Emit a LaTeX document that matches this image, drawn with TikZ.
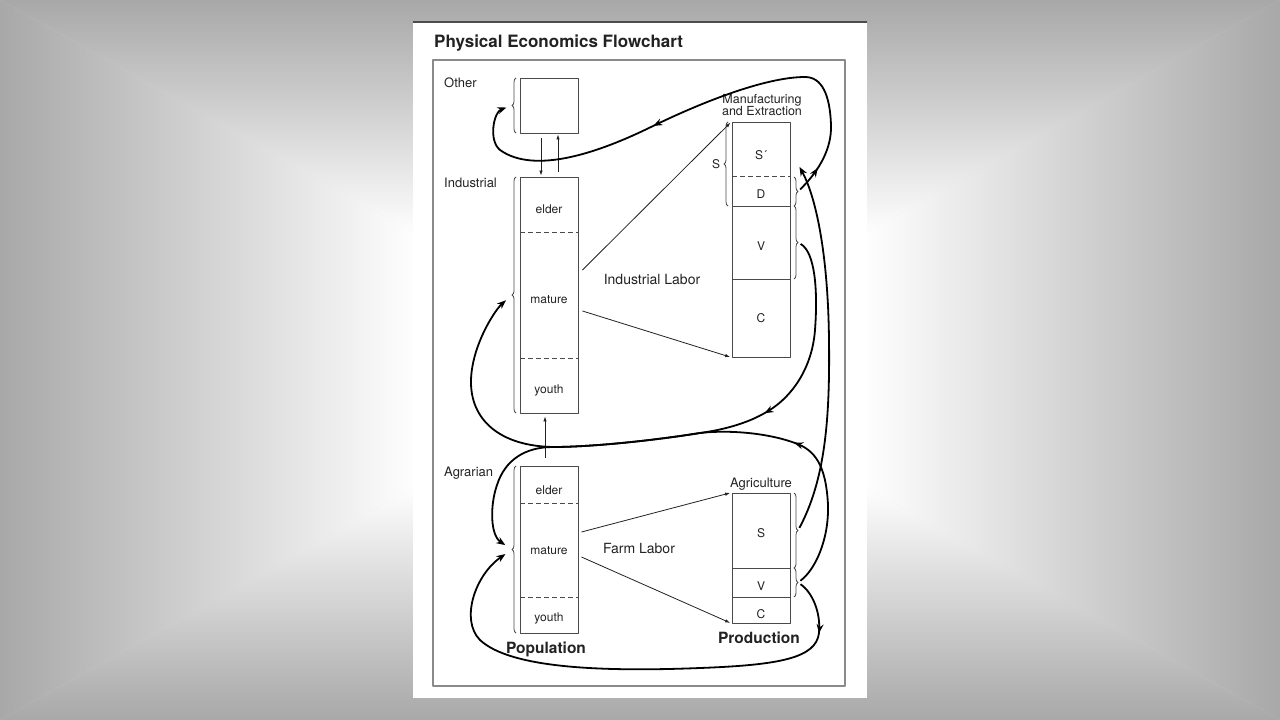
\documentclass[tikz,border=0pt]{standalone}
\usepackage{fontspec}
\setmainfont{TeX Gyre Heros}
\usetikzlibrary{arrows.meta, decorations.pathreplacing, decorations.markings}
\definecolor{bggray}{HTML}{A8A8A8}
\definecolor{ink}{HTML}{222222}
\definecolor{boxline}{HTML}{4A4A4A}
\definecolor{framegray}{HTML}{8A8A8A}
\tikzset{mark arrow/.style={postaction={decorate, decoration={markings, mark=at position #1 with {\arrow{Stealth[length=9pt, width=7pt]}}}}}}

\begin{document}
\begin{tikzpicture}[x=1pt, y=-1pt, line join=round]
	\tikzstyle{box}   = [draw=boxline, line width=0.9pt, inner sep=0pt, minimum width=58pt]
	\tikzstyle{cell}  = [anchor=base, inner sep=0pt, text=ink, font=\fontsize{12}{14}\selectfont]
	\tikzstyle{tag}   = [anchor=base west, inner sep=0pt, text=ink, font=\fontsize{13}{15}\selectfont]
	\tikzstyle{sep}   = [draw=boxline, line width=0.9pt]
	\tikzstyle{brace} = [draw=boxline, line width=0.8pt, decorate, decoration={brace, amplitude=4pt}]
	\tikzstyle{thin}  = [draw=ink, line width=0.8pt, -{Latex[length=5pt, width=3.5pt]}]
	\tikzstyle{flow}  = [draw=black, line width=1.8pt, -{Stealth[length=9pt, width=7pt]}]

	\useasboundingbox (0,0) rectangle (1280,720);

	% background
	\fill[bggray!40] (0,0) rectangle (1280,720);
	\shade[left color=bggray, right color=white] (0,0) -- (420,236) -- (420,484) -- (0,720) -- cycle;
	\shade[left color=white, right color=bggray] (1280,0) -- (860,236) -- (860,484) -- (1280,720) -- cycle;
	\shade[top color=bggray, bottom color=white] (0,0) -- (1280,0) -- (860,236) -- (420,236) -- cycle;
	\shade[top color=white, bottom color=bggray] (0,720) -- (1280,720) -- (860,484) -- (420,484) -- cycle;
	\fill[white] (420,236) rectangle (860,484);

	% page
	\fill[white] (413,22) rectangle (867,698);
	\draw[gray!60!black, line width=1.5pt] (413,22) -- (867,22);
	\draw[framegray, line width=1.2pt] (433,60) rectangle (845,686);

	\node[anchor=base west, inner sep=0pt, text=ink, font=\fontsize{17}{20}\selectfont\bfseries] (title) at (434,47) {Physical Economics Flowchart};

	\node[tag] (otherlbl) at (444,87) {Other};
	\node[tag] (indlbl) at (444,187) {Industrial};
	\node[tag] (agrlbl) at (444,476) {Agrarian};

	% boxes
	\node[box, minimum height=55pt] (other) at (549,105.5) {};
	\node[box, minimum height=236pt] (ind) at (549,295) {};
	\node[box, minimum height=167pt] (agr) at (549,549.5) {};
	\node[box, minimum height=235pt] (manu) at (761,239.5) {};
	\node[box, minimum height=130pt] (agri) at (761,558) {};

	\foreach \y in {232, 358, 503, 597}
		\draw[sep, dash pattern=on 5pt off 3pt] (520,\y) -- (578,\y);
	\draw[sep, dash pattern=on 5pt off 3pt] (732,176) -- (790,176);
	\foreach \y in {206, 279, 568, 597}
		\draw[sep] (732,\y) -- (790,\y);

	\foreach \name/\txt/\y in {ielder/elder/213, imature/mature/303, iyouth/youth/393, aelder/elder/494, amature/mature/554, ayouth/youth/621}
		\node[cell] (\name) at (549,\y) {\txt};
	\foreach \name/\txt/\y in {msp/S´/159, md/D/198, mv/V/250, mc/C/322, as/S/537, av/V/590, ac/C/618}
		\node[cell] (\name) at (761,\y) {\txt};

	\node[cell, anchor=base, font=\fontsize{12.5}{14}\selectfont] (manulbl) at (762,103) {Manufacturing};
	\node[cell, anchor=base, font=\fontsize{12.5}{14}\selectfont] (extrlbl) at (762,115) {and Extraction};
	\node[cell, font=\fontsize{13}{15}\selectfont] (agrilbl) at (761,487) {Agriculture};
	\node[cell] (slbl) at (716,168) {S};
	\node[cell, font=\fontsize{14}{16}\selectfont] (indlab) at (652,284) {Industrial Labor};
	\node[cell, font=\fontsize{14}{16}\selectfont] (farmlab) at (639,553) {Farm Labor};
	\node[cell, font=\fontsize{15.5}{18}\selectfont\bfseries] (poplbl) at (546,653) {Population};
	\node[cell, font=\fontsize{15.5}{18}\selectfont\bfseries] (prodlbl) at (759,643) {Production};

	% braces
	\foreach \xb/\ya/\yb in {516/133/78, 516/413/177, 516/633/466, 728/206/122}
		\draw[brace] (\xb,\ya) -- (\xb,\yb);
	\foreach \ya/\yb in {177/206, 206/279, 493/568, 568/597}
		\draw[brace] (794,\ya) -- (794,\yb);

	\coordinate (otherB) at (512,105.5);
	\coordinate (indB) at (512,295);
	\coordinate (agrB) at (512,549.5);
	\coordinate (dB) at (798,191.5);
	\coordinate (vB) at (798,242.5);
	\coordinate (asB) at (798,530.5);
	\coordinate (avB) at (798,582.5);
	\coordinate (sprime) at (799,166);

	% labor and population flows
	\draw[thin, shorten <=5pt, shorten >=1pt] ([xshift=-8pt]other.south) -- ([xshift=-8pt]ind.north);
	\draw[thin, shorten <=5pt, shorten >=1pt] ([xshift=9pt]ind.north) -- ([xshift=9pt]other.south);
	\draw[thin, shorten <=8pt, shorten >=3pt] ([xshift=-4pt]agr.north) -- ([xshift=-4pt]ind.south);
	\draw[thin, shorten >=1.5pt] ([xshift=4pt, yshift=25pt]ind.east) -- (manu.north west);
	\draw[thin, shorten >=1.5pt] ([xshift=4pt, yshift=-16pt]ind.east) -- (manu.south west);
	\draw[thin, shorten >=1.5pt] ([xshift=3pt, yshift=17.5pt]agr.east) -- (agri.north west);
	\draw[thin, shorten >=1.5pt] ([xshift=3pt, yshift=-7.5pt]agr.east) -- (agri.south west);

	% product flows
	\draw[flow, mark arrow=0.06, mark arrow=0.58, shorten <=3pt, shorten >=6pt] (dB) .. controls (815,175) and (832,152) .. (831,125) .. controls (830,95) and (822,77) .. (805,77) .. controls (765,77) and (700,103) .. (651,127) .. controls (600,152) and (535,175) .. (500,150) .. controls (488,140) and (494,112) .. (otherB);
	\draw[flow, shorten <=3pt, shorten >=1pt] (asB) .. controls (825,480) and (830,420) .. (829,340) .. controls (828,250) and (815,195) .. (sprime);
	\draw[flow, mark arrow=0.31, shorten <=3pt, shorten >=8pt] (vB) .. controls (815,252) and (818,290) .. (815,330) .. controls (812,370) and (790,400) .. (763,414) .. controls (745,424) and (722,430) .. (700,433) .. controls (650,441) and (590,447) .. (553,447) .. controls (500,446) and (470,420) .. (471,380) .. controls (472,345) and (495,310) .. (indB);
	\draw[flow, mark arrow=0.295, shorten <=3pt, shorten >=8pt] (avB) .. controls (815,570) and (829,540) .. (828,505) .. controls (826,465) and (815,450) .. (795,443) .. controls (765,432) and (725,430) .. (700,433) .. controls (650,441) and (590,447) .. (553,447) .. controls (525,447) and (505,460) .. (497,485) .. controls (490,505) and (490,535) .. (agrB);
	\draw[flow, mark arrow=0.11, shorten <=3pt, shorten >=8pt] (avB) .. controls (812,592) and (821,612) .. (819,633) .. controls (816,658) and (780,665) .. (700,668) .. controls (600,672) and (510,668) .. (480,640) .. controls (460,620) and (475,575) .. (agrB);

\end{tikzpicture}
\end{document}
